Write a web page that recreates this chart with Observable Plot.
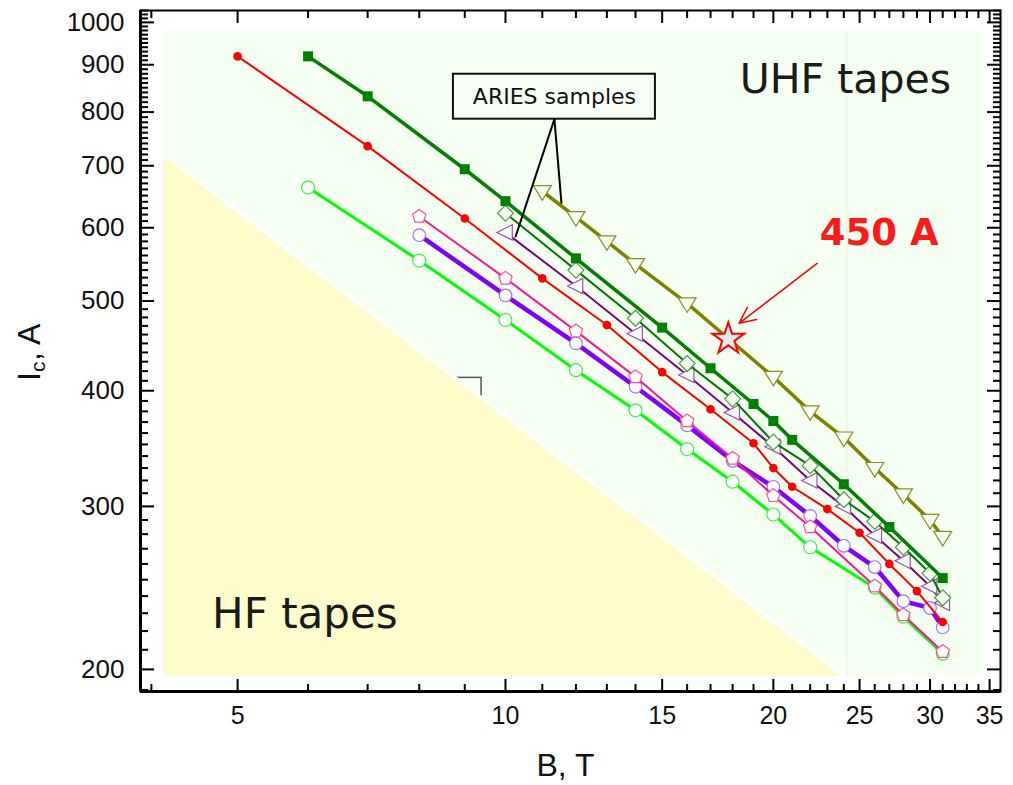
<!DOCTYPE html>
<html><head><meta charset="utf-8">
<script src="https://cdn.jsdelivr.net/npm/d3@7"></script>
<script src="https://cdn.jsdelivr.net/npm/@observablehq/plot@0.6"></script>
<style>body{margin:0;background:#fff}</style>
</head><body><div id="chart"></div>
<script>
// ---- data (B in tesla, Ic in ampere) ----
const bSquares = [6,7,9,10,12,15,17,19,20,21,24,27,31];
const icSquares = [919,832,694,641,556,468,423,387,371,354,317,285,251];

const bRed = [5,7,9,11,13,15,17,19,20,21,23,25,27,29,31];
const icRed = [919,735,614,529,471,419,382,351,330,315,298,281,260,243,225];

const bOlive = [11,12,13,14,16,20,22,24,26,28,30,31];
const icOlive = [657,616,580,548,497,414,380,356,330,309,290,278];

const bDiamond = [10,12,14,16,18,20,22,24,26,28,30,31];
const icDiamond = [622,540,479,428,392,352,332,305,289,271,254,239];

const bPurple = [10,12,14,16,18,20,22,24,26,28,30,31];
const icPurple = [593,519,461,416,379,348,320,300,279,262,246,236];

const bPink = [8,10,12,14,16,18,20,22,26,28,31];
const icPink = [617,529,464,414,371,338,308,285,246,229,209];

const bViolet = [8,10,12,14,16,18,20,22,24,26,28,30,31];
const icViolet = [589,507,450,404,367,336,315,293,272,258,237,233,222];

const bLime = [6,8,10,12,14,16,18,20,22,26,28,31];
const icLime = [663,553,477,421,381,346,319,294,271,245,228,208];

const starB = [17.8], starIc = [455];

// axes
const xDomain = [3.889, 36.0];
const yDomain = [189.3, 1030];
const xMajor = [5,10,15,20,25,30,35];
const xMinor = [4,6,7,8,9,11,12,13,14,16,17,18,19,21,22,23,24,26,27,28,29,31,32,33,34];
const yMajor = [200,300,400,500,600,700,800,900,1000];
const yMinor = d3.range(190, 1031, 10).filter(v => v % 100 !== 0);

// background regions (data units)
const greenX = [4.13, 34.4], greenY = [196.5, 980];
const hfEdgeB = [4.13, 24.1], hfEdgeIc = [720, 196.5], hfFloor = 196.5;
const seamB = [24.2];
const ghostBoxB = [8.81, 9.40], ghostBoxIc = [372, 413];

// annotations (data units)
const ariesBoxB = [8.74, 14.74], ariesBoxIc = [786, 879];
const ariesTextPos = [11.35, 830];
const ariesLinks = [
  {b1: 11.35, i1: 786, b2: 10.26, i2: 586},
  {b1: 11.35, i1: 786, b2: 11.56, i2: 637}
];
const arrowPos = {b1: 22.4, i1: 549, b2: 18.3, i2: 473};
const label450Pos = [26.3, 592];
const uhfPos = [24.1, 866];
const hfPos = [4.68, 229];

// ---- helpers ----
const toRows = (bs, is) => bs.map((b, k) => ({b, ic: is[k]}));
const box = (bs, is) => [{x1: bs[0], x2: bs[1], y1: is[0], y2: is[1]}];
const sym = (pts) => ({draw(ctx, size) {
  const r = Math.sqrt(size / Math.PI);
  pts.forEach(([px, py], k) => k ? ctx.lineTo(px * r, py * r) : ctx.moveTo(px * r, py * r));
  ctx.closePath();
}});
const squareSym = sym([[-1,-1],[1,-1],[1,1],[-1,1]]);
const diamondSym = sym([[0,-1],[1,0],[0,1],[-1,0]]);
const triDownSym = sym([[-1,-0.62],[1,-0.62],[0,1]]);
const triLeftSym = sym([[-1,0],[0.8,-0.9],[0.8,0.9]]);
const pentSym = sym(d3.range(5).map(k => [Math.sin(k * 2 * Math.PI / 5), -Math.cos(k * 2 * Math.PI / 5)]));

const bg = "#f5fff2";
const series = [
  {rows: toRows(bLime, icLime), line: "#00ff00", lw: 3, sym: "circle", r: 6.5, fill: "#ffffff", stroke: "#40f040"},
  {rows: toRows(bViolet, icViolet), line: "#8000ff", lw: 4.5, sym: "circle", r: 6.3, fill: "#ffffff", stroke: "#a070ff"},
  {rows: toRows(bPink, icPink), line: "#ff1493", lw: 2, sym: pentSym, r: 7, fill: "#ffffff", stroke: "#ff5090"},
  {rows: toRows(bRed, icRed), line: "#ff0000", lw: 2, sym: "circle", r: 4.3, fill: "#ff0000", stroke: "none"},
  {rows: toRows(bPurple, icPurple), line: "#800080", lw: 2, sym: triLeftSym, r: 8.5, fill: bg, stroke: "#a050b0"},
  {rows: toRows(bDiamond, icDiamond), line: "#007800", lw: 2, sym: diamondSym, r: 8, fill: bg, stroke: "#4c9c4c"},
  {rows: toRows(bSquares, icSquares), line: "#008000", lw: 3.5, sym: squareSym, r: 5, fill: "#008000", stroke: "none"},
  {rows: toRows(bOlive, icOlive), line: "#808000", lw: 3.5, sym: triDownSym, r: 9, fill: bg, stroke: "#8c8c20"}
];

const seriesMarks = series.flatMap(s => [
  Plot.line(s.rows, {x: "b", y: "ic", stroke: s.line, strokeWidth: s.lw}),
  Plot.dot(s.rows, {x: "b", y: "ic", symbol: s.sym, r: s.r, fill: s.fill, stroke: s.stroke, strokeWidth: 1.2})
]);

const hfRows = hfEdgeB.map((b, k) => ({b, ic: hfEdgeIc[k], lo: hfFloor}));

const tickOpts = {stroke: "black", strokeWidth: 2, fill: "none", label: null};
const sans = "Liberation Sans, Arial, sans-serif";
const verd = "DejaVu Sans, Verdana, sans-serif";

const chart = Plot.plot({
  width: 1013, height: 785,
  marginLeft: 140, marginRight: 13, marginTop: 10, marginBottom: 94,
  x: {type: "log", domain: xDomain},
  y: {type: "log", domain: yDomain},
  style: {background: "#fff", overflow: "visible"},
  marks: [
    Plot.rect(box(greenX, greenY), {x1: "x1", x2: "x2", y1: "y1", y2: "y2", fill: bg}),
    Plot.ruleX(seamB, {y1: greenY[0], y2: greenY[1], stroke: "#eef9ea", strokeWidth: 3}),
    Plot.rect(box(ghostBoxB, ghostBoxIc), {x1: "x1", x2: "x2", y1: "y1", y2: "y2", fill: "none", stroke: "#555", strokeWidth: 1.5}),
    Plot.areaY(hfRows, {x: "b", y1: "lo", y2: "ic", fill: "#fffdcc"}),
    Plot.line(hfRows, {x: "b", y: "ic", stroke: "#ffffff", strokeWidth: 3.5}),
    ...seriesMarks,
    Plot.dot(toRows(starB, starIc), {x: "b", y: "ic", symbol: "star", r: 10, fill: "#dfeaea", stroke: "#ff0000", strokeWidth: 2}),
    // annotations
    Plot.rect(box(ariesBoxB, ariesBoxIc), {x1: "x1", x2: "x2", y1: "y1", y2: "y2", fill: "#f8fff6", stroke: "#111", strokeWidth: 2}),
    Plot.text(["ARIES samples"], {x: () => ariesTextPos[0], y: () => ariesTextPos[1], fontSize: 22, fontFamily: verd, fill: "#111"}),
    Plot.link(ariesLinks, {x1: "b1", y1: "i1", x2: "b2", y2: "i2", stroke: "#000", strokeWidth: 2}),
    Plot.arrow([arrowPos], {x1: "b1", y1: "i1", x2: "b2", y2: "i2", stroke: "#ff0000", strokeWidth: 1.5, headLength: 18, headAngle: 50}),
    Plot.text(["450 A"], {x: () => label450Pos[0], y: () => label450Pos[1], fontSize: 37, fontWeight: "bold", fontFamily: verd, fill: "#ff1a1a"}),
    Plot.text(["UHF tapes"], {x: () => uhfPos[0], y: () => uhfPos[1], fontSize: 41, fontFamily: verd, fill: "#1a1a1a"}),
    Plot.text(["HF tapes"], {x: () => hfPos[0], y: () => hfPos[1], fontSize: 42, fontFamily: verd, fill: "#1a1a1a", textAnchor: "start"}),
    // inward ticks
    Plot.axisY(yMajor, {anchor: "left", tickSize: 14, dx: 14, ...tickOpts}),
    Plot.axisY(yMinor, {anchor: "left", tickSize: 8, dx: 8, ...tickOpts}),
    Plot.axisY(yMajor, {anchor: "right", tickSize: 14, dx: -14, ...tickOpts}),
    Plot.axisY(yMinor, {anchor: "right", tickSize: 8, dx: -8, ...tickOpts}),
    Plot.axisX(xMajor, {anchor: "bottom", tickSize: 12, dy: -12, ...tickOpts}),
    Plot.axisX(xMinor, {anchor: "bottom", tickSize: 7, dy: -7, ...tickOpts}),
    Plot.axisX(xMajor, {anchor: "top", tickSize: 12, dy: 12, ...tickOpts}),
    Plot.axisX(xMinor, {anchor: "top", tickSize: 7, dy: 7, ...tickOpts}),
    // tick labels
    Plot.axisY(yMajor, {anchor: "left", tickSize: 0, tickPadding: 16, tickFormat: d => String(d), fontSize: 26, fontFamily: sans, fill: "#111", label: null}),
    Plot.axisX(xMajor, {anchor: "bottom", tickSize: 0, tickPadding: 15, tickFormat: d => String(d), fontSize: 25, fontFamily: sans, fill: "#111", label: null}),
    // frame
    Plot.frame({stroke: "#000", strokeWidth: 2}),
    Plot.ruleX([xDomain[0]], {stroke: "#000", strokeWidth: 3}),
    Plot.ruleY([yDomain[0]], {stroke: "#000", strokeWidth: 3}),
    // axis titles
    Plot.text(["B, T"], {frameAnchor: "bottom", dx: -5, dy: 84, fontSize: 32, fontFamily: sans, fill: "#111"}),
    Plot.text(["I"], {frameAnchor: "left", dx: -111, dy: 30, rotate: -90, textAnchor: "start", fontSize: 32, fontFamily: sans, fill: "#111"}),
    Plot.text(["c"], {frameAnchor: "left", dx: -102, dy: 21, rotate: -90, textAnchor: "start", fontSize: 21, fontFamily: sans, fill: "#111"}),
    Plot.text([", A"], {frameAnchor: "left", dx: -111, dy: 10, rotate: -90, textAnchor: "start", fontSize: 32, fontFamily: sans, fill: "#111"})
  ]
});
document.getElementById("chart").appendChild(chart);
</script>
</body></html>
